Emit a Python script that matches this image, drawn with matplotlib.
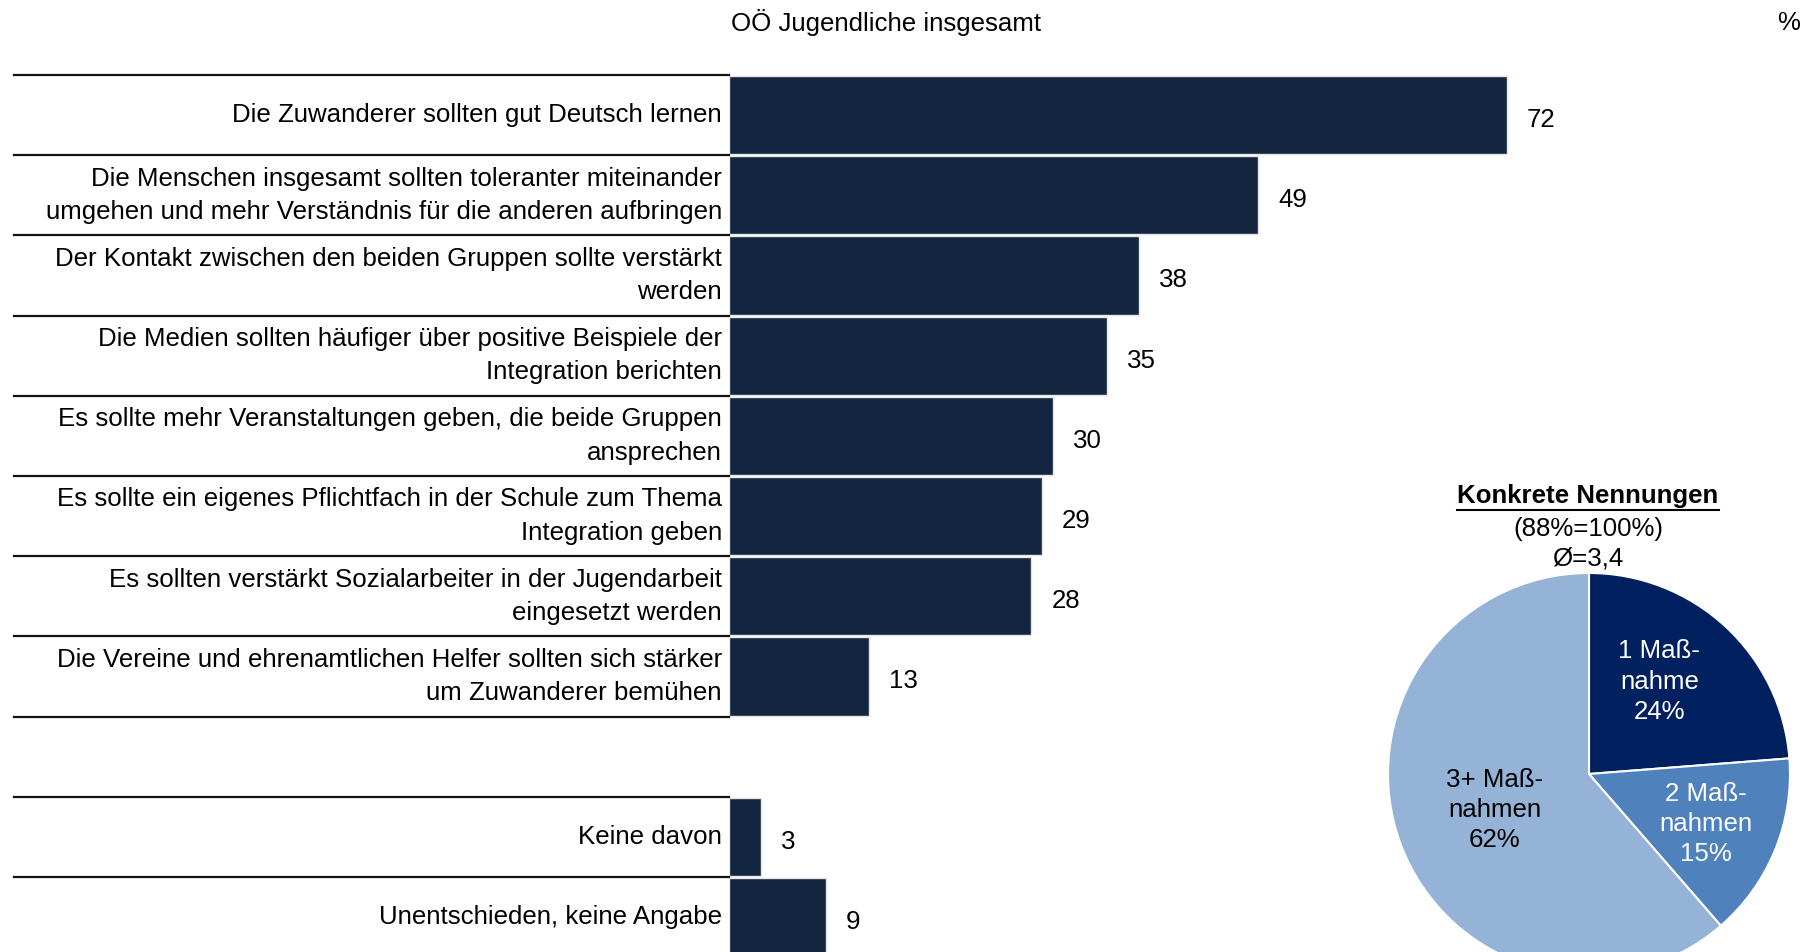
import numpy as np
import matplotlib.pyplot as plt
from matplotlib.lines import Line2D
import matplotlib.transforms as mtransforms

plt.rcParams['font.family'] = ['Liberation Sans', 'DejaVu Sans']

# Data
labels = [
    "Die Zuwanderer sollten gut Deutsch lernen",
    "Die Menschen insgesamt sollten toleranter miteinander\numgehen und mehr Verständnis für die anderen aufbringen",
    "Der Kontakt zwischen den beiden Gruppen sollte verstärkt\nwerden",
    "Die Medien sollten häufiger über positive Beispiele der\nIntegration berichten",
    "Es sollte mehr Veranstaltungen geben, die beide Gruppen\nansprechen",
    "Es sollte ein eigenes Pflichtfach in der Schule zum Thema\nIntegration geben",
    "Es sollten verstärkt Sozialarbeiter in der Jugendarbeit\neingesetzt werden",
    "Die Vereine und ehrenamtlichen Helfer sollten sich stärker\num Zuwanderer bemühen",
]
values = [72, 49, 38, 35, 30, 29, 28, 13]
extra_labels = ["Keine davon", "Unentschieden, keine Angabe"]
extra_values = [3, 9]

pie_names = ["1 Maß-\nnahme", "2 Maß-\nnahmen", "3+ Maß-\nnahmen"]
pie_values = [24, 15, 62]
pie_title = "Konkrete Nennungen"
pie_sub = "(88%=100%)\nØ=3,4"

BAR = '#14263f'
PIE_COLORS = ['#002060', '#4f81bd', '#95b3d7']
FS = 18.6

W, H = 1819, 952
fig = plt.figure(figsize=(W / 100, H / 100), dpi=100)

# bar axes in pixel layout
row_h = 80.2
n_rows = len(values) + 1 + len(extra_values)
x0_px, top_px = 729, 75
ax = fig.add_axes([x0_px / W, 1 - (top_px + n_rows * row_h) / H,
                   1080 / W, n_rows * row_h / H])
ax.set_xlim(0, 100)
ax.set_ylim(n_rows, 0)
ax.axis('off')

all_labels = labels + extra_labels
all_values = values + extra_values
rows = list(range(len(values))) + [len(values) + 1 + i for i in range(len(extra_values))]
centers = np.array(rows) + 0.5

ax.barh(centers, all_values, height=0.975, color=BAR, edgecolor='#e6e6e6',
        linewidth=1)
for y, lab, v in zip(centers, all_labels, all_values):
    ax.text(-0.65, y, lab, ha='right', va='center', fontsize=FS,
            linespacing=1.5)
    ax.text(v + 1.85, y + 0.06, str(v), ha='left', va='center', fontsize=FS)

# separator lines
trans = mtransforms.blended_transform_factory(fig.transFigure, ax.transData)
for k in range(n_rows + 1):
    fig.add_artist(Line2D([14 / W, x0_px / W], [k, k], transform=trans,
                          color='#111111', linewidth=1.6))

fig.text(886 / W, 1 - 23 / H, "OÖ Jugendliche insgesamt", ha='center',
         va='center', fontsize=FS)
fig.text(1789 / W, 1 - 23 / H, "%", ha='center', va='center', fontsize=FS)

# pie
cx, cy, r = 1589, 774, 201
pax = fig.add_axes([(cx - r) / W, (H - cy - r) / H, 2 * r / W, 2 * r / H])
wedges, _ = pax.pie(pie_values, colors=PIE_COLORS, startangle=90,
                    counterclock=False, radius=1,
                    wedgeprops=dict(edgecolor='white', linewidth=1.5))
pax.set_xlim(-1, 1)
pax.set_ylim(-1, 1)
pax.set_aspect('equal')
pax.axis('off')

label_pos = [(0.35, 0.46), (0.58, -0.25), (-0.47, -0.18)]
text_cols = ['white', 'white', 'black']
for name, v, (lx, ly), tc in zip(pie_names, pie_values, label_pos, text_cols):
    pax.text(lx, ly, f"{name}\n{v}%", ha='center', va='center', fontsize=FS,
             color=tc, linespacing=1.32)

t = fig.text(1588 / W, 1 - 496 / H, pie_title, ha='center', va='center',
             fontsize=FS, fontweight='bold')
fig.text(1588 / W, 1 - 544 / H, pie_sub, ha='center', va='center',
         fontsize=FS, linespacing=1.28)

fig.canvas.draw()
bb = t.get_window_extent()
fig.add_artist(Line2D([bb.x0 / W, bb.x1 / W], [(H - 510) / H] * 2,
                      transform=fig.transFigure, color='black', linewidth=1.5))

fig.savefig('out.png', dpi=100)
